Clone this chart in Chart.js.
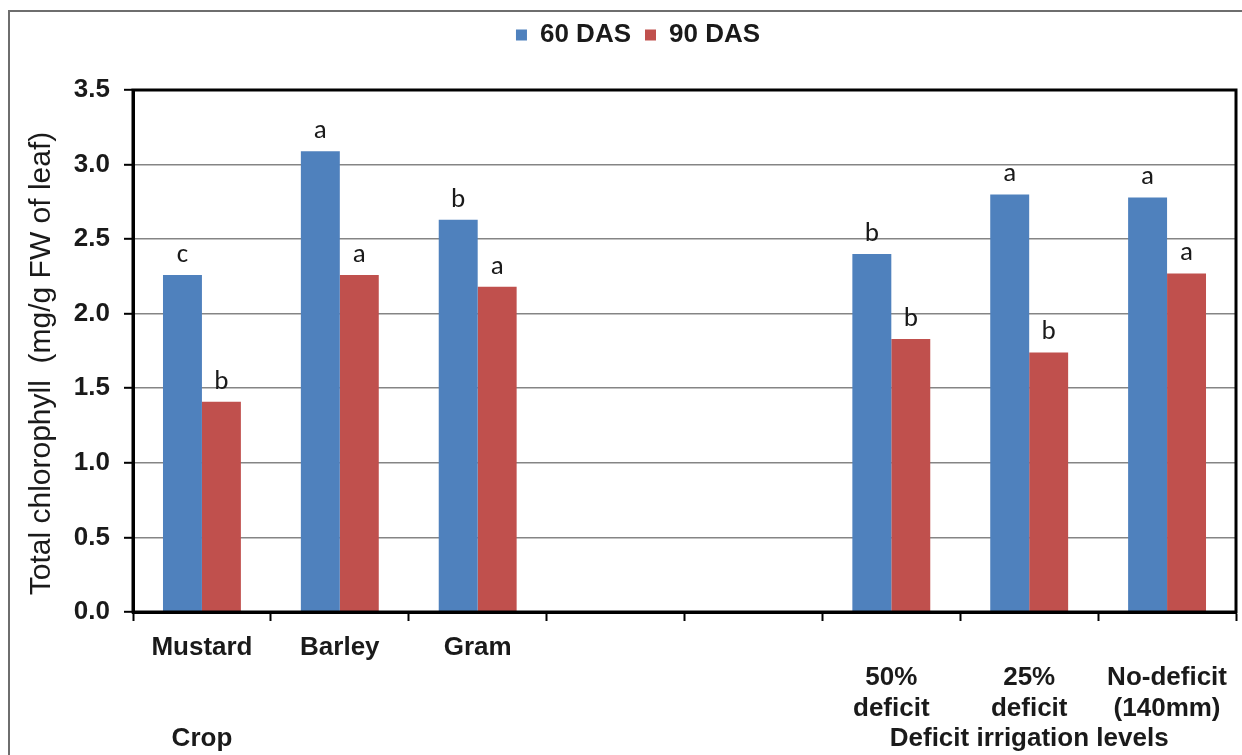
<!DOCTYPE html>
<html>
<head>
<meta charset="utf-8">
<style>
  html, body { margin: 0; padding: 0; background: #ffffff; }
  canvas { display: block; }
</style>
<script src="https://cdn.jsdelivr.net/npm/chart.js@4.4.1/dist/chart.umd.min.js"></script>
</head>
<body>
<canvas id="chart" width="1242" height="755"></canvas>
<script>
// Category labels (two empty slots separate the crop group from the irrigation group)
const categories = [
  ['Mustard', '', '', 'Crop'],
  ['Barley'],
  ['Gram'],
  [''],
  [''],
  ['', '50%', 'deficit'],
  ['', '25%', 'deficit', 'Deficit irrigation levels'],
  ['', 'No-deficit', '(140mm)']
];

// Total chlorophyll (mg/g FW of leaf)
const das60 = [2.26, 3.09, 2.63, null, null, 2.40, 2.80, 2.78];
const das90 = [1.41, 2.26, 2.18, null, null, 1.83, 1.74, 2.27];

// Significance letters above each bar
const letters60 = ['c', 'a', 'b', '', '', 'b', 'a', 'a'];
const letters90 = ['b', 'a', 'a', '', '', 'b', 'b', 'a'];

const seriesNames = ['60 DAS', '90 DAS'];
const yTickStep = 0.5;
const yMax = 3.5;

const BLUE = '#4F81BD';
const RED = '#C0504D';
const BOLD_FAMILY = "'Liberation Sans', Arial, sans-serif";

// Page frame (left and top rules) and white background
const framePlugin = {
  id: 'frame',
  beforeDraw(chart) {
    const ctx = chart.ctx;
    ctx.save();
    ctx.fillStyle = '#ffffff';
    ctx.fillRect(0, 0, chart.width, chart.height);
    ctx.strokeStyle = '#6e6e6e';
    ctx.lineWidth = 2;
    ctx.beginPath();
    ctx.moveTo(9, chart.height);
    ctx.lineTo(9, 11);
    ctx.lineTo(chart.width, 11);
    ctx.stroke();
    ctx.restore();
  }
};

// Black box around the plot area
const plotBoxPlugin = {
  id: 'plotBox',
  afterDatasetsDraw(chart) {
    const { ctx, chartArea: a } = chart;
    ctx.save();
    ctx.strokeStyle = '#000000';
    ctx.lineWidth = 3;
    ctx.strokeRect(a.left, a.top, a.right - a.left, a.bottom - a.top);
    ctx.restore();
  }
};

// Letters written above the bars
const lettersPlugin = {
  id: 'barLetters',
  afterDatasetsDraw(chart) {
    const ctx = chart.ctx;
    const sets = [letters60, letters90];
    ctx.save();
    ctx.font = "27px Carlito, Lato, sans-serif";
    ctx.fillStyle = '#1a1a1a';
    ctx.textAlign = 'center';
    ctx.textBaseline = 'alphabetic';
    sets.forEach((letters, di) => {
      const meta = chart.getDatasetMeta(di);
      meta.data.forEach((bar, i) => {
        if (!letters[i] || chart.data.datasets[di].data[i] == null) return;
        ctx.fillText(letters[i], bar.x, bar.y - 13);
      });
    });
    ctx.restore();
  }
};

// Extra room between the legend and the plot, legend centred on the page
const legendSpacing = {
  id: 'legendSpacing',
  beforeLayout(chart) {
    const legend = chart.legend;
    if (legend && !legend._spaced) {
      const fit = legend.fit;
      legend.fit = function () {
        fit.call(this);
        this.height += 32;
      };
      legend._spaced = true;
    }
  },
  afterLayout(chart) {
    const legend = chart.legend;
    if (legend) {
      legend.left += 10;
      legend.right += 10;
    }
  }
};

new Chart(document.getElementById('chart'), {
  type: 'bar',
  data: {
    labels: categories,
    datasets: [
      { label: seriesNames[0], data: das60, backgroundColor: BLUE, borderWidth: 0 },
      { label: seriesNames[1], data: das90, backgroundColor: RED, borderWidth: 0 }
    ]
  },
  options: {
    responsive: false,
    animation: false,
    devicePixelRatio: 1,
    categoryPercentage: 0.565,
    barPercentage: 1.0,
    layout: { padding: { top: 8, left: 20, right: 6, bottom: 0 } },
    plugins: {
      legend: {
        position: 'top',
        align: 'center',
        labels: {
          boxWidth: 11,
          boxHeight: 11,
          padding: 14,
          color: '#1a1a1a',
          font: { family: BOLD_FAMILY, size: 26, weight: 'bold' }
        }
      },
      tooltip: { enabled: false }
    },
    scales: {
      x: {
        offset: true,
        grid: {
          display: true,
          offset: true,
          drawOnChartArea: false,
          drawTicks: true,
          tickLength: 9,
          tickColor: '#000000',
          tickWidth: 2
        },
        border: { display: true, color: '#000000', width: 3 },
        ticks: {
          autoSkip: false,
          maxRotation: 0,
          minRotation: 0,
          padding: 12,
          color: '#1a1a1a',
          font: { family: BOLD_FAMILY, size: 26, weight: 'bold', lineHeight: 1.16 }
        },
        afterFit(scale) { scale.height = 143; }
      },
      y: {
        min: 0,
        max: yMax,
        grid: {
          color: '#858585',
          lineWidth: 1.6,
          drawTicks: true,
          tickLength: 9,
          tickColor: '#000000',
          tickWidth: 2
        },
        border: { display: true, color: '#000000', width: 3 },
        ticks: {
          stepSize: yTickStep,
          padding: 14,
          color: '#1a1a1a',
          font: { family: BOLD_FAMILY, size: 26, weight: 'bold' },
          callback: (v) => Number(v).toFixed(1)
        },
        title: {
          display: true,
          text: 'Total chlorophyll  (mg/g FW of leaf)   ',
          color: '#1a1a1a',
          padding: { top: 4, bottom: 4 },
          font: { family: "'Liberation Sans', Arial, sans-serif", size: 30, weight: 'normal' }
        },
        afterFit(scale) { scale.width = 113; }
      }
    }
  },
  plugins: [framePlugin, plotBoxPlugin, lettersPlugin, legendSpacing]
});
</script>
</body>
</html>
